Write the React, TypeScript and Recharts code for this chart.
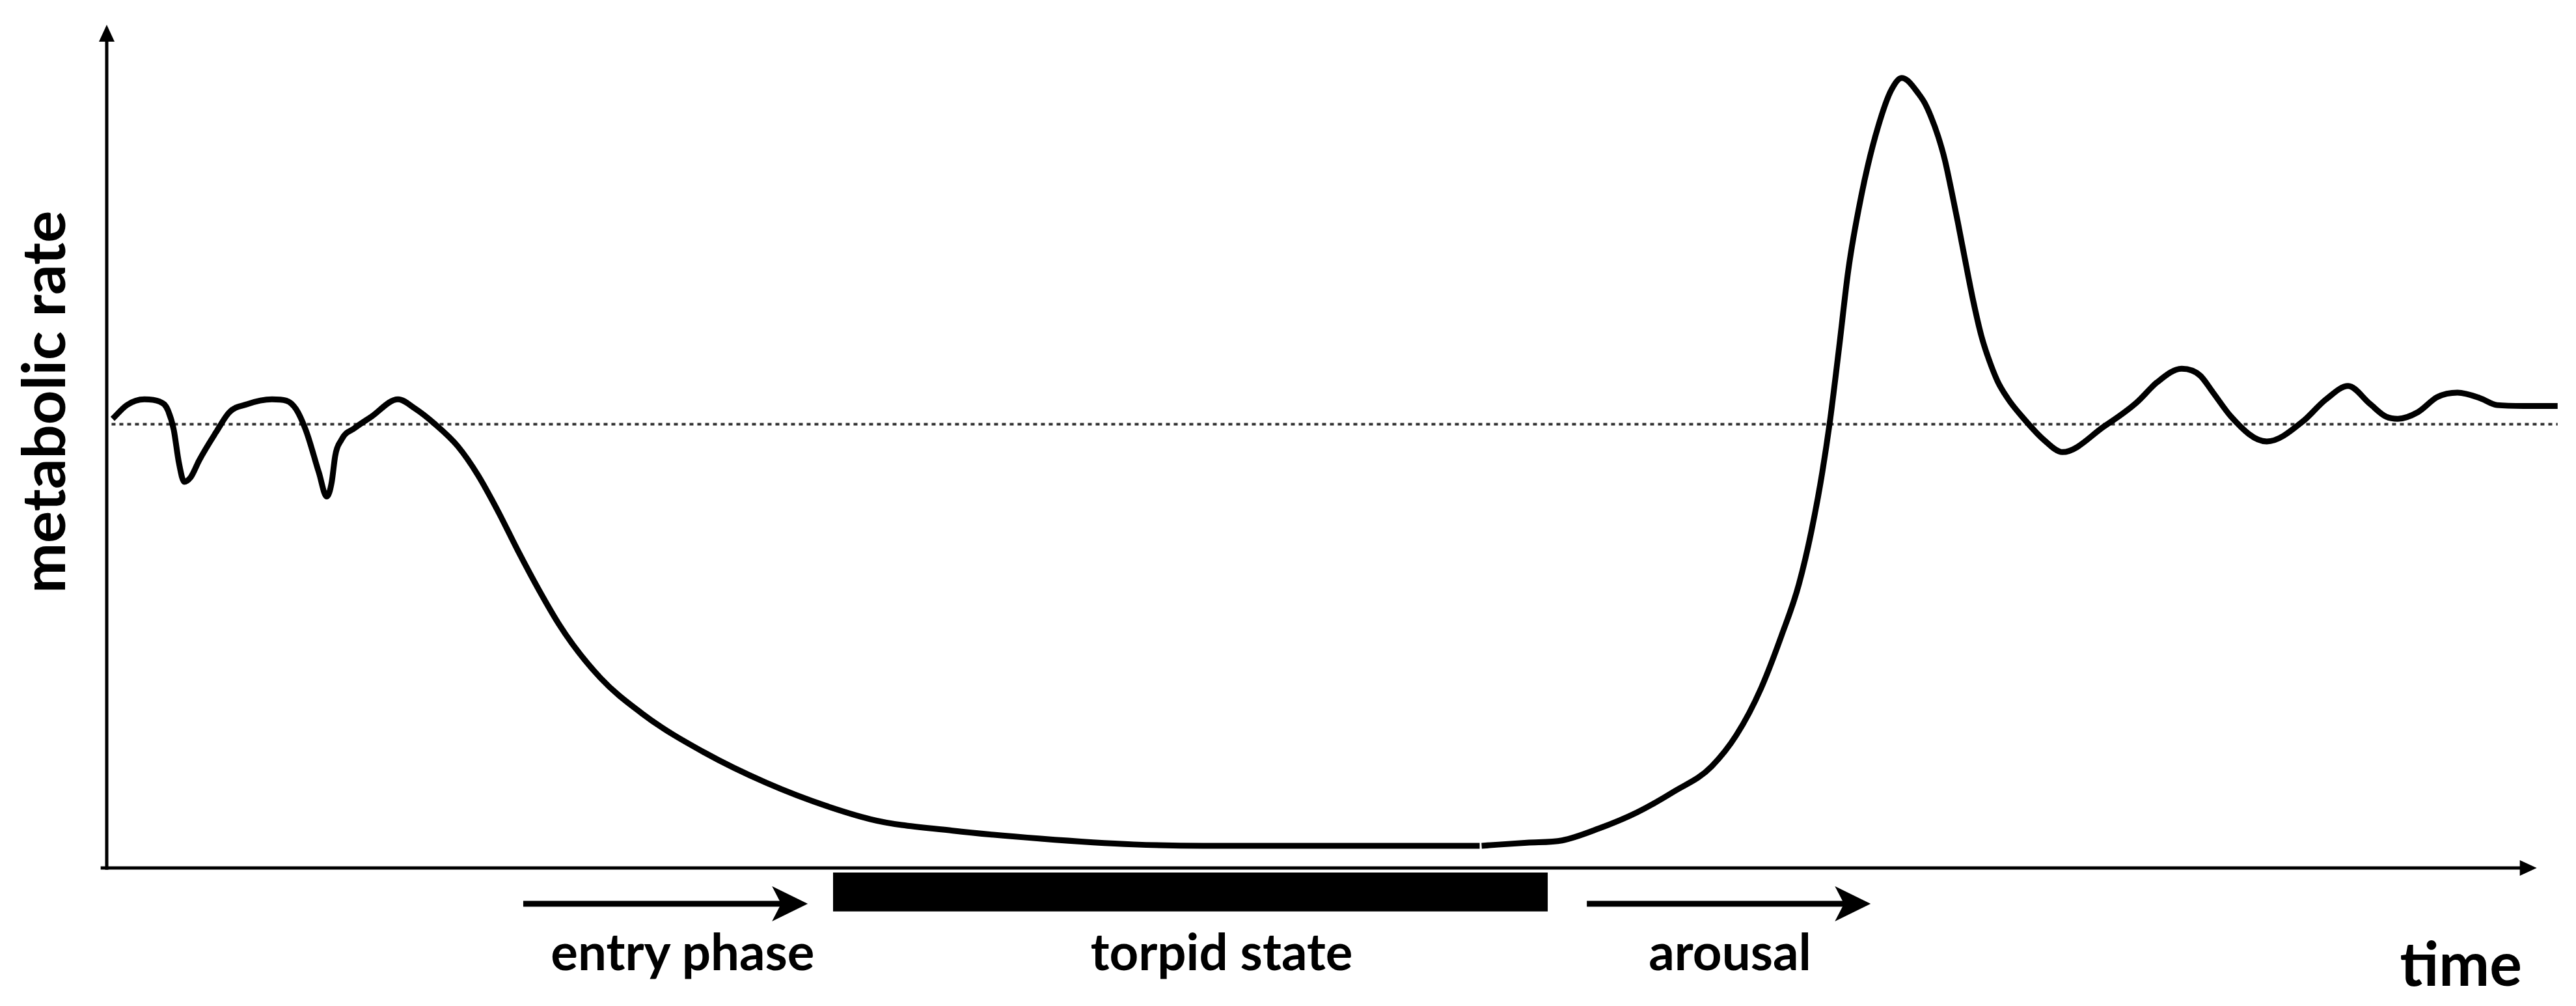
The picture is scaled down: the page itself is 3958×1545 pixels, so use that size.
import React from "react";
import {
  LineChart,
  Line,
  XAxis,
  YAxis,
  ReferenceLine,
  ReferenceArea,
  ReferenceDot,
} from "recharts";

// time (arbitrary units, 0..100 along the time axis)
const timePoints = [
  0.24, 0.83, 1.55, 2.17, 2.52, 2.76, 2.97, 3.19, 3.45, 3.8, 4.5, 5.03, 5.78,
  6.8, 7.39, 7.79, 8.19, 8.73, 9.05, 9.26, 9.4, 9.66, 10.2, 10.87, 11.99,
  12.69, 13.49, 14.45, 15.28, 16.09, 16.92, 17.8, 18.6, 20.32, 22.03, 24.6,
  27.14, 29.71, 31.42, 34.82, 38.44, 42.26, 45.13, 56.5, 56.54, 56.58, 58.44,
  59.89, 61.41, 62.97, 64.49, 66.05, 67.06, 68.08, 68.91, 69.64, 70.14, 70.6,
  70.9, 71.27, 71.67, 72.21, 72.9, 73.44, 73.87, 74.54, 74.81, 75.07, 75.37,
  75.64, 75.9, 76.17, 76.49, 76.81, 77.14, 77.54, 77.81, 78.23, 78.9, 79.73,
  80.48, 82.2, 83.56, 84.37, 85.39, 86.16, 86.67, 87.42, 88.89, 90.37, 91.33,
  92.24, 93.13, 93.8, 94.28, 95.11, 95.91, 96.74, 97.7, 98.37, 99.46, 100.86,
];

// metabolic rate, relative to the normothermic baseline (= 1)
const metabolicRate = [
  1.012, 1.043, 1.056, 1.051, 1.031, 0.987, 0.913, 0.87, 0.88, 0.918, 0.982,
  1.026, 1.045, 1.056, 1.053, 1.034, 0.987, 0.891, 0.837, 0.87, 0.928, 0.965,
  0.991, 1.016, 1.056, 1.035, 1.001, 0.95, 0.885, 0.805, 0.715, 0.625, 0.55,
  0.428, 0.348, 0.26, 0.192, 0.138, 0.11, 0.084, 0.066, 0.053, 0.05, 0.05,
  null, 0.05, 0.057, 0.062, 0.089, 0.125, 0.172, 0.229, 0.299, 0.405, 0.522,
  0.64, 0.756, 0.892, 1.001, 1.163, 1.347, 1.516, 1.671, 1.753, 1.78, 1.746,
  1.724, 1.693, 1.648, 1.596, 1.53, 1.457, 1.366, 1.278, 1.2, 1.133, 1.097,
  1.058, 1.012, 0.964, 0.937, 0.995, 1.05, 1.094, 1.125, 1.109, 1.072, 1.017,
  0.961, 1.006, 1.056, 1.086, 1.046, 1.017, 1.012, 1.027, 1.061, 1.071, 1.058,
  1.043, 1.041, 1.041,
];

const baselineRate = 1;

// phases under the time axis
const phaseNames = ["entry phase", "torpid state", "arousal"];
const phaseStart = [17.14, 29.89, 60.91];
const phaseEnd = [28.85, 59.3, 72.59];
const phaseLabelAt = [23.7, 45.88, 66.8];

const chartData = timePoints.map((t, i) => ({ time: t, rate: metabolicRate[i] }));

const FONT = "Lato, 'Open Sans', sans-serif";

// smooth hermite curve (like monotoneX but with a looser slope limit, so no kinks)
function smoothCurve(context: any) {
  let xs: number[] = [];
  let ys: number[] = [];
  return {
    areaStart() {},
    areaEnd() {},
    lineStart() {
      xs = [];
      ys = [];
    },
    point(x: number, y: number) {
      xs.push(+x);
      ys.push(+y);
    },
    lineEnd() {
      const n = xs.length;
      if (!n) return;
      context.moveTo(xs[0], ys[0]);
      if (n === 1) return;
      const s: number[] = [];
      for (let i = 0; i < n - 1; i++) s.push((ys[i + 1] - ys[i]) / (xs[i + 1] - xs[i] || 1));
      const m: number[] = [];
      for (let i = 0; i < n; i++) {
        if (i === 0) m.push(s[0]);
        else if (i === n - 1) m.push(s[n - 2]);
        else if (s[i - 1] * s[i] <= 0) m.push(0);
        else {
          const h0 = xs[i] - xs[i - 1];
          const h1 = xs[i + 1] - xs[i];
          const p = (s[i - 1] * h1 + s[i] * h0) / (h0 + h1);
          const lim = 3 * Math.min(Math.abs(s[i - 1]), Math.abs(s[i]));
          m.push(Math.sign(p) * Math.min(Math.abs(p), lim));
        }
      }
      for (let i = 0; i < n - 1; i++) {
        const h = (xs[i + 1] - xs[i]) / 3;
        context.bezierCurveTo(
          xs[i] + h,
          ys[i] + m[i] * h,
          xs[i + 1] - h,
          ys[i + 1] - m[i + 1] * h,
          xs[i + 1],
          ys[i + 1]
        );
      }
    },
  };
}

const Arrow = (props: any) => {
  const { x1, y1, x2, y2, head, half, notch, width } = props;
  const dx = x2 - x1;
  const dy = y2 - y1;
  const len = Math.sqrt(dx * dx + dy * dy);
  const ux = dx / len;
  const uy = dy / len;
  const px = -uy;
  const py = ux;
  const bx = x2 - ux * head;
  const by = y2 - uy * head;
  const nx = x2 - ux * (head - notch);
  const ny = y2 - uy * (head - notch);
  const pts = [
    [x2, y2],
    [bx + px * half, by + py * half],
    [nx, ny],
    [bx - px * half, by - py * half],
  ]
    .map((p) => p.join(","))
    .join(" ");
  return (
    <g>
      <line x1={x1} y1={y1} x2={nx + ux * 2} y2={ny + uy * 2} stroke="#000" strokeWidth={width} />
      <polygon points={pts} fill="#000" />
    </g>
  );
};

const textAt = (text: string, size: number, rotate = false) => (p: any) => (
  <text
    x={p.cx}
    y={p.cy}
    textAnchor="middle"
    fontFamily={FONT}
    fontWeight={700}
    fontSize={size}
    fill="#000"
    transform={rotate ? `rotate(-90, ${p.cx}, ${p.cy})` : undefined}
  >
    {text}
  </text>
);

export default function App() {
  return (
    <div style={{ position: "absolute", left: 0, top: 0, background: "#fff" }}>
      <LineChart
        width={3958}
        height={1545}
        data={chartData}
        margin={{ top: 38, right: 23, bottom: 212, left: 164 }}
      >
        <XAxis dataKey="time" type="number" domain={[0, 101]} hide />
        <YAxis domain={[0, 1.9]} hide />

        {/* torpid state bar */}
        <ReferenceArea
          x1={phaseStart[1]}
          x2={phaseEnd[1]}
          y1={-0.0103}
          y2={-0.098}
          fill="#000"
          fillOpacity={1}
          stroke="none"
          ifOverflow="visible"
        />

        {/* axes */}
        <ReferenceLine
          segment={[{ x: 0, y: -0.004 }, { x: 0, y: 1.9 }]}
          ifOverflow="visible"
          shape={(p: any) => <Arrow {...p} head={26} half={12} notch={0} width={5} />}
        />
        <ReferenceLine
          segment={[{ x: -0.25, y: 0 }, { x: 100, y: 0 }]}
          ifOverflow="visible"
          shape={(p: any) => <Arrow {...p} head={26} half={12} notch={0} width={5} />}
        />

        {/* baseline */}
        <ReferenceLine
          segment={[{ x: 0.2, y: baselineRate }, { x: 100.86, y: baselineRate }]}
          stroke="#333"
          strokeWidth={4}
          strokeDasharray="6 6"
          ifOverflow="visible"
        />

        {/* entry and arousal arrows */}
        {[0, 2].map((i) => (
          <ReferenceLine
            key={"arr" + i}
            segment={[{ x: phaseStart[i], y: -0.0807 }, { x: phaseEnd[i], y: -0.0807 }]}
            ifOverflow="visible"
            shape={(p: any) => <Arrow {...p} head={55} half={27} notch={14} width={9} />}
          />
        ))}

        {phaseNames.map((name, i) => (
          <ReferenceDot
            key={name}
            x={phaseLabelAt[i]}
            y={-0.2303}
            ifOverflow="visible"
            shape={textAt(name, 78)}
          />
        ))}
        <ReferenceDot x={96.88} y={-0.2656} ifOverflow="visible" shape={textAt("time", 93)} />
        <ReferenceDot x={-1.71} y={1.05} ifOverflow="visible" shape={textAt("metabolic rate", 92, true)} />

        <Line
          type={smoothCurve as any}
          dataKey="rate"
          stroke="#000"
          strokeWidth={9}
          dot={false}
          activeDot={false}
          isAnimationActive={false}
        />
      </LineChart>
    </div>
  );
}
